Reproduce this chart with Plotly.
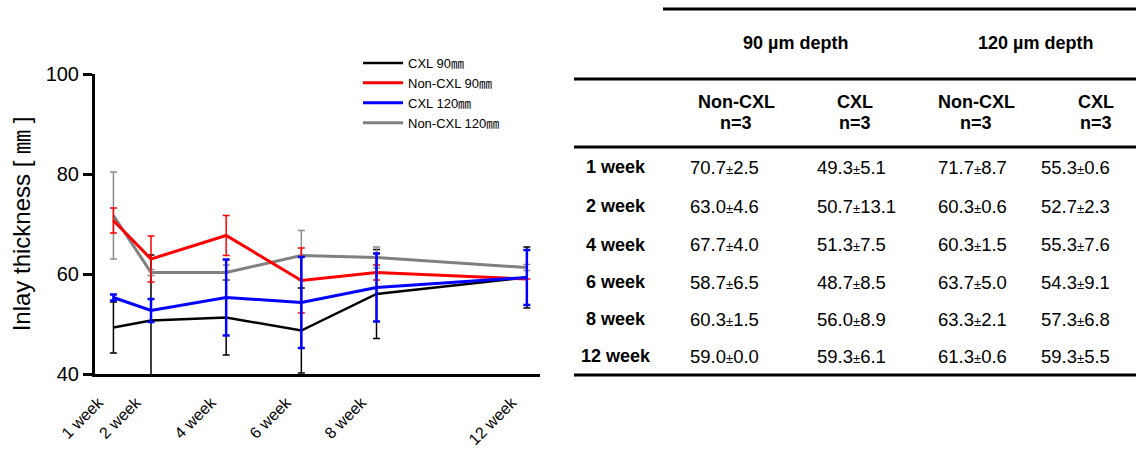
import plotly.graph_objects as go

# ---------------- data ----------------
weeks = [1, 2, 4, 6, 8, 12]
week_labels = ["1 week", "2 week", "4 week", "6 week", "8 week", "12 week"]

cxl90_mean = [49.3, 50.7, 51.3, 48.7, 56.0, 59.3]
cxl90_sd = [5.1, 13.1, 7.5, 8.5, 8.9, 6.1]
noncxl90_mean = [70.7, 63.0, 67.7, 58.7, 60.3, 59.0]
noncxl90_sd = [2.5, 4.6, 4.0, 6.5, 1.5, 0.0]
cxl120_mean = [55.3, 52.7, 55.3, 54.3, 57.3, 59.3]
cxl120_sd = [0.6, 2.3, 7.6, 9.1, 6.8, 5.5]
noncxl120_mean = [71.7, 60.3, 60.3, 63.7, 63.3, 61.3]
noncxl120_sd = [8.7, 0.6, 1.5, 5.0, 2.1, 0.6]

y_ticks = [40, 60, 80, 100]

depth_headers = ["90 µm depth", "120 µm depth"]
group_headers = ["Non-CXL", "CXL", "Non-CXL", "CXL"]
n_labels = ["n=3", "n=3", "n=3", "n=3"]

# ---------------- layout helpers ----------------
W, H = 1136, 450
FONT = "Arial, 'Liberation Sans', 'Noto Sans CJK JP', sans-serif"


def px(x):
    return x / W


def py(y):
    return 1 - y / H


fig = go.Figure()

series = [
    # name, mean, sd, line colour, error colour, line width, err thickness, cap half width, legend rank
    ("CXL 90㎜", cxl90_mean, cxl90_sd, "#000000", "#000000", 2.5, 1.5, 3.5, 1),
    ("Non-CXL 120㎜", noncxl120_mean, noncxl120_sd, "#808080", "#8c8c8c", 3, 1.5, 3.5, 4),
    ("Non-CXL 90㎜", noncxl90_mean, noncxl90_sd, "#ff0000", "#ff0000", 3, 1.5, 3.5, 2),
    ("CXL 120㎜", cxl120_mean, cxl120_sd, "#0000ff", "#0000ff", 3, 2.5, 3.5, 3),
]

for name, m, s, col, ecol, lw, et, ew, rank in series:
    fig.add_trace(go.Scatter(
        x=weeks, y=m, name=name, mode="lines",
        line=dict(color=col, width=lw),
        error_y=dict(type="data", array=s, visible=True, color=ecol,
                     thickness=et, width=ew),
        legendrank=rank,
    ))

# ---------------- table ----------------
shapes = []
line_style = dict(color="black", width=3)
shapes.append(dict(type="line", xref="paper", yref="paper",
                   x0=px(663), x1=px(1136), y0=py(9), y1=py(9), line=line_style))
for yy in (79, 147, 375):
    shapes.append(dict(type="line", xref="paper", yref="paper",
                       x0=px(574), x1=px(1136), y0=py(yy), y1=py(yy), line=line_style))

ann = []
bold = dict(family=FONT, size=18, color="black")
normal = dict(family=FONT, size=18.5, color="black")

for txt, cx in zip(depth_headers, [795, 1035]):
    ann.append(dict(xref="paper", yref="paper", x=px(cx), y=py(43), text=f"<b>{txt}</b>",
                    showarrow=False, xanchor="center", yanchor="middle", font=bold))

hdr_x = [736, 855, 976, 1096]
for g, n, cx in zip(group_headers, n_labels, hdr_x):
    ann.append(dict(xref="paper", yref="paper", x=px(cx), y=py(102), text=f"<b>{g}</b>",
                    showarrow=False, xanchor="center", yanchor="middle", font=bold))
    ann.append(dict(xref="paper", yref="paper", x=px(cx), y=py(123), text=f"<b>{n}</b>",
                    showarrow=False, xanchor="center", yanchor="middle", font=bold))

row_y = [167, 206, 245, 282, 319, 356]
col_left = [688, 815, 936, 1039]
table_cols = [(noncxl90_mean, noncxl90_sd), (cxl90_mean, cxl90_sd),
              (noncxl120_mean, noncxl120_sd), (cxl120_mean, cxl120_sd)]

for i, (lab, ry) in enumerate(zip(week_labels, row_y)):
    ann.append(dict(xref="paper", yref="paper", x=px(616), y=py(ry), text=f"<b>{lab}</b>",
                    showarrow=False, xanchor="center", yanchor="middle", font=bold))
    for (mm, ss), cl in zip(table_cols, col_left):
        txt = f"{mm[i]:.1f}<span style='font-size:13px'>±</span>{ss[i]:.1f}"
        ann.append(dict(xref="paper", yref="paper", x=px(cl), y=py(ry), text=txt,
                        showarrow=False, xanchor="left", yanchor="middle", font=normal))

fig.update_layout(
    width=W, height=H,
    margin=dict(l=0, r=0, t=0, b=0),
    paper_bgcolor="white", plot_bgcolor="white",
    font=dict(family=FONT, color="black"),
    showlegend=True,
    legend=dict(x=px(358), y=py(48), xanchor="left", yanchor="top",
                font=dict(family=FONT, size=13, color="black"),
                bgcolor="rgba(0,0,0,0)", tracegroupgap=0, itemwidth=40),
    xaxis=dict(domain=[px(95), px(540)], range=[0.51, 12.35],
               tickvals=weeks, ticktext=week_labels, tickangle=-45,
               ticks="", showline=True, linecolor="black", linewidth=3,
               showgrid=False, zeroline=False, automargin=False,
               ticklabelstandoff=10, ticklabelshift=-15,
               tickfont=dict(family=FONT, size=16, color="black")),
    yaxis=dict(domain=[1 - 374 / H, 1 - 74 / H], range=[40, 100],
               tickvals=y_ticks, ticks="outside", ticklen=9, tickwidth=3,
               tickcolor="black", showline=True, linecolor="black", linewidth=3,
               showgrid=False, zeroline=False, automargin=False,
               tickfont=dict(family=FONT, size=20, color="black"),
               title=dict(text="Inlay thickness [ ㎜ ]", standoff=9,
                          font=dict(family=FONT, size=24, color="black"))),
    shapes=shapes,
    annotations=ann,
)

fig.write_html("out.html")
